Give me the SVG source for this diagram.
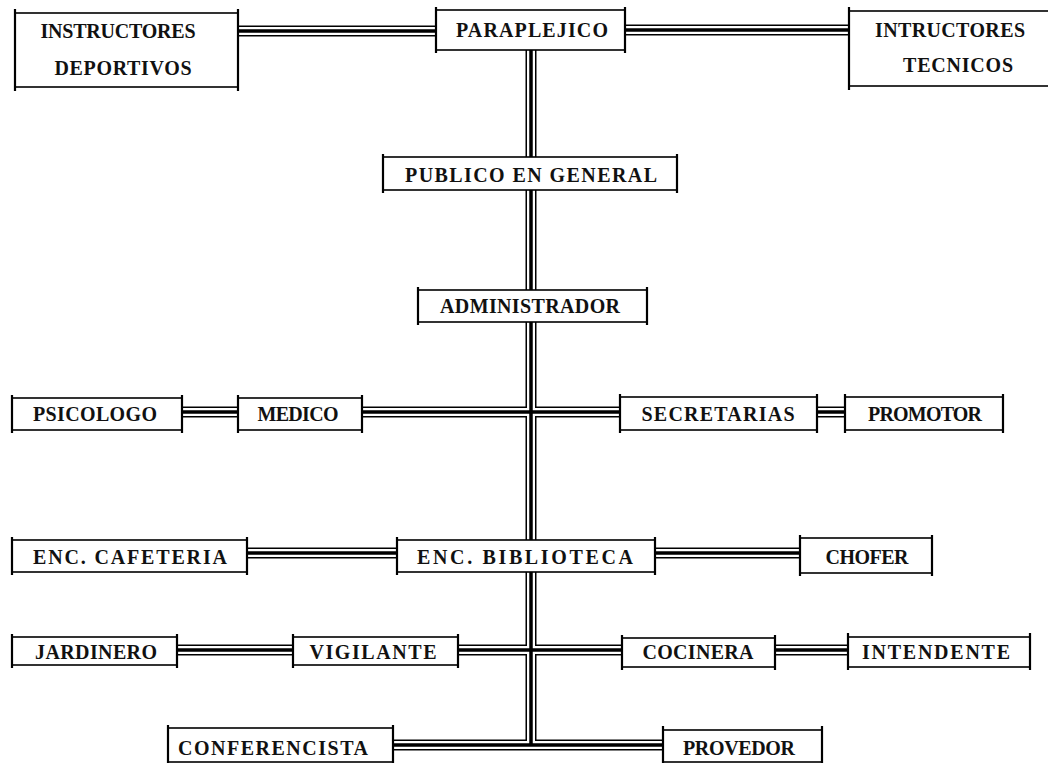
<svg xmlns="http://www.w3.org/2000/svg" width="1048" height="763" viewBox="0 0 1048 763">
<style>
.b{fill:#fff;stroke:#000;stroke-width:1.6}
.e{stroke:#000;stroke-width:2.2}
text{font-family:"Liberation Serif","Times New Roman",serif;font-weight:bold;font-size:20px;text-anchor:middle;fill:#111}
.o{fill:none;stroke:#000;stroke-width:11}
.w{fill:none;stroke:#fff;stroke-width:8}
.c{fill:none;stroke:#000;stroke-width:3.5}
</style>
<defs>
<path id="lines" d="M238,31H436 M625,30H849 M531,50V745 M182,412H238 M362,412H620 M817,412H845 M247,553H397 M655,553H800 M177,650H293 M458,650H622 M775,650H848 M393,745H663"/>
</defs>
<rect width="1048" height="763" fill="#fff"/>
<g id="connectors">
<use href="#lines" class="o"/>
<use href="#lines" class="w"/>
<use href="#lines" class="c"/>
</g>
<g id="instructores-deportivos"><rect class="b" x="15" y="13" width="223" height="74"/><path class="e" d="M15,9V91M238,9V91"/><text x="118" y="38" textLength="155" lengthAdjust="spacing">INSTRUCTORES</text><text x="123" y="75" textLength="137" lengthAdjust="spacing">DEPORTIVOS</text></g>
<g id="parapléjico"><rect class="b" x="436" y="10" width="189" height="40"/><path class="e" d="M436,7V53M625,7V53"/><text x="532" y="37" textLength="152" lengthAdjust="spacing">PARAPLEJICO</text></g>
<g id="intructores-tecnicos"><rect class="b" x="849" y="11" width="205" height="75"/><path class="e" d="M849,7V90"/><text x="950" y="37" textLength="150" lengthAdjust="spacing">INTRUCTORES</text><text x="958" y="72" textLength="110" lengthAdjust="spacing">TECNICOS</text></g>
<g id="publico"><rect class="b" x="383" y="157" width="294" height="33"/><path class="e" d="M383,154V193M677,154V193"/><text x="531" y="182" textLength="252" lengthAdjust="spacing">PUBLICO EN GENERAL</text></g>
<g id="administrador"><rect class="b" x="418" y="290" width="229" height="32"/><path class="e" d="M418,287V325M647,287V325"/><text x="530" y="313" textLength="180" lengthAdjust="spacing">ADMINISTRADOR</text></g>
<g id="psicologo"><rect class="b" x="12" y="398" width="170" height="32"/><path class="e" d="M12,395V433M182,395V433"/><text x="95" y="421" textLength="124" lengthAdjust="spacing">PSICOLOGO</text></g>
<g id="medico"><rect class="b" x="238" y="398" width="124" height="32"/><path class="e" d="M238,395V433M362,395V433"/><text x="298" y="421" textLength="81" lengthAdjust="spacing">MEDICO</text></g>
<g id="secretarias"><rect class="b" x="620" y="397" width="197" height="33"/><path class="e" d="M620,394V433M817,394V433"/><text x="718" y="421" textLength="153" lengthAdjust="spacing">SECRETARIAS</text></g>
<g id="promotor"><rect class="b" x="845" y="397" width="158" height="33"/><path class="e" d="M845,394V433M1003,394V433"/><text x="925" y="421" textLength="114" lengthAdjust="spacing">PROMOTOR</text></g>
<g id="enc-cafeteria"><rect class="b" x="12" y="540" width="235" height="32"/><path class="e" d="M12,537V575M247,537V575"/><text x="130" y="564" textLength="194" lengthAdjust="spacing">ENC. CAFETERIA</text></g>
<g id="enc-biblioteca"><rect class="b" x="397" y="540" width="258" height="32"/><path class="e" d="M397,537V575M655,537V575"/><text x="525" y="564" textLength="216" lengthAdjust="spacing">ENC. BIBLIOTECA</text></g>
<g id="chofer"><rect class="b" x="800" y="538" width="132" height="35"/><path class="e" d="M800,535V576M932,535V576"/><text x="867" y="564" textLength="83" lengthAdjust="spacing">CHOFER</text></g>
<g id="jardinero"><rect class="b" x="12" y="637" width="165" height="28"/><path class="e" d="M12,634V668M177,634V668"/><text x="96" y="659" textLength="122" lengthAdjust="spacing">JARDINERO</text></g>
<g id="vigilante"><rect class="b" x="293" y="637" width="165" height="28"/><path class="e" d="M293,634V668M458,634V668"/><text x="373" y="659" textLength="127" lengthAdjust="spacing">VIGILANTE</text></g>
<g id="cocinera"><rect class="b" x="622" y="638" width="153" height="29"/><path class="e" d="M622,635V670M775,635V670"/><text x="698" y="659" textLength="111" lengthAdjust="spacing">COCINERA</text></g>
<g id="intendente"><rect class="b" x="848" y="637" width="182" height="30"/><path class="e" d="M848,633V670M1030,633V670"/><text x="936" y="659" textLength="148" lengthAdjust="spacing">INTENDENTE</text></g>
<g id="conferencista"><rect class="b" x="168" y="728" width="225" height="34"/><path class="e" d="M168,725V763M393,725V763"/><text x="273" y="755" textLength="190" lengthAdjust="spacing">CONFERENCISTA</text></g>
<g id="provedor"><rect class="b" x="663" y="730" width="159" height="32"/><path class="e" d="M663,726V763M822,726V763"/><text x="739" y="755" textLength="112" lengthAdjust="spacing">PROVEDOR</text></g>
</svg>
